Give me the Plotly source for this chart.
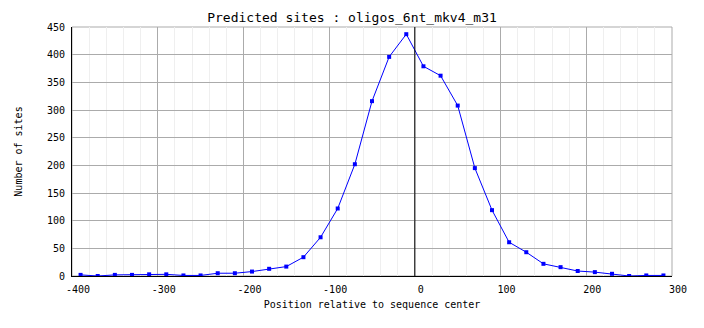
import plotly.graph_objects as go

# Bin centres (position relative to sequence center) and site counts per bin
positions = [-390, -370, -350, -330, -310, -290, -270, -250, -230, -210,
             -190, -170, -150, -130, -110, -90, -70, -50, -30, -10,
             10, 30, 50, 70, 90, 110, 130, 150, 170, 190,
             210, 230, 250, 270, 290]
counts = [2, 0, 2, 2, 3, 3, 1, 1, 5, 5,
          8, 13, 17, 34, 70, 122, 202, 316, 396, 437,
          379, 362, 308, 195, 119, 61, 43, 22, 16, 9,
          7, 4, 0, 1, 1]

x_ticks = [-400, -300, -200, -100, 0, 100, 200, 300]
y_ticks = [0, 50, 100, 150, 200, 250, 300, 350, 400, 450]

FONT = "DejaVu Sans Mono"
GRID = "#ababab"
MINOR = "#efefef"

fig = go.Figure()
fig.add_trace(go.Scatter(
    x=positions, y=counts, mode="lines+markers",
    line=dict(color="#0000ff", width=1),
    marker=dict(symbol="square", size=4, color="#0000ff"),
    showlegend=False, hoverinfo="x+y",
))

fig.update_layout(
    width=704, height=328,
    margin=dict(l=72, r=32, t=27, b=52),
    paper_bgcolor="white", plot_bgcolor="white",
    font=dict(family=FONT, size=10, color="black"),
    title=dict(text="Predicted sites : oligos_6nt_mkv4_m31",
               font=dict(family=FONT, size=13, color="black"),
               x=352 / 704, xanchor="center", xref="container",
               y=1 - 17 / 328, yanchor="middle", yref="container"),
    xaxis=dict(
        range=[-400, 300], tickvals=x_ticks, ticktext=[str(v) for v in x_ticks],
        showgrid=True, gridcolor=GRID, gridwidth=1,
        minor=dict(dtick=20, tick0=-400, showgrid=True, gridcolor=MINOR, gridwidth=1),
        zeroline=False, showline=True, linecolor="black", linewidth=1,
        ticks="", ticklabelshift=6, ticklabelstandoff=4,
        tickfont=dict(family=FONT, size=10),
        title=dict(text="Position relative to sequence center",
                   font=dict(family=FONT, size=10), standoff=6),
    ),
    yaxis=dict(
        range=[0, 450], tickvals=y_ticks,
        showgrid=True, gridcolor=GRID, gridwidth=1,
        zeroline=False, showline=True, linecolor="black", linewidth=1,
        ticks="", ticklabelstandoff=4,
        tickfont=dict(family=FONT, size=10),
        title=dict(text="Number of sites",
                   font=dict(family=FONT, size=10), standoff=22),
    ),
    shapes=[
        # plot frame on top and right
        dict(type="rect", xref="paper", yref="paper", x0=0, x1=1, y0=0, y1=1,
             line=dict(color=GRID, width=1), layer="below"),
        # sequence centre marker
        dict(type="line", xref="x", yref="paper", x0=0, x1=0, y0=0, y1=1,
             line=dict(color="black", width=1)),
    ],
)

fig.write_html("out.html")
